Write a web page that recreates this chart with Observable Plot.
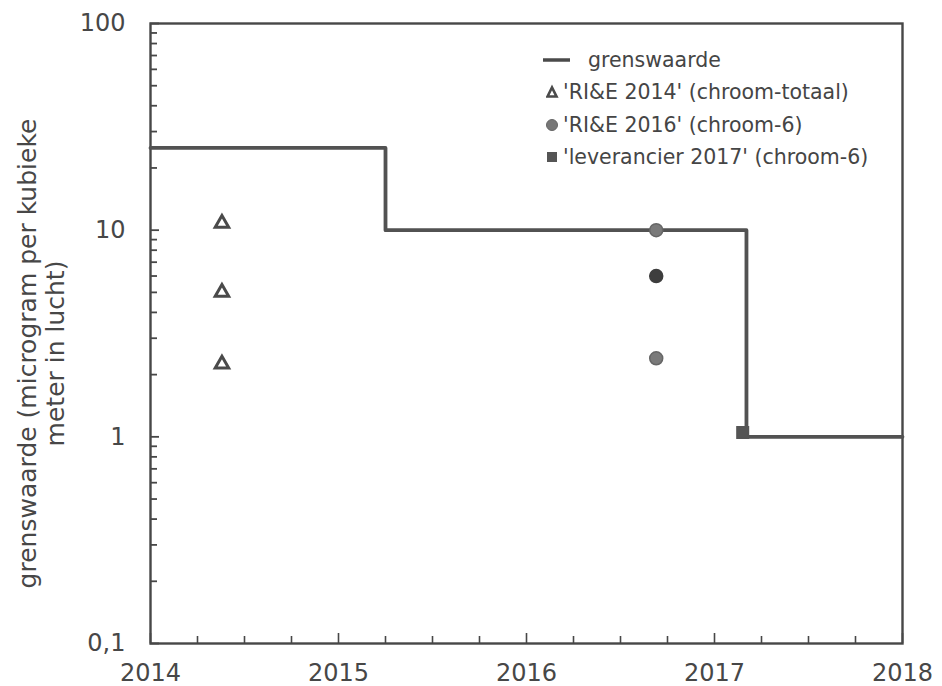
<!DOCTYPE html>
<html>
<head>
<meta charset="utf-8">
<script src="https://cdn.jsdelivr.net/npm/d3@7"></script>
<script src="https://cdn.jsdelivr.net/npm/@observablehq/plot@0.6"></script>
<style>
  html, body { margin: 0; padding: 0; background: #fff; }
  #wrap { position: relative; width: 942px; height: 686px; font-family: "DejaVu Sans", Verdana, sans-serif; color: #454545; }
  .row { position: absolute; height: 24px; line-height: 24px; font-size: 20.5px; white-space: nowrap; display: flex; align-items: center; }
  .row svg { flex: none; }
</style>
</head>
<body>
<div id="wrap"></div>
<script>
// ---- data ----
const years = [2014, 2015, 2016, 2017, 2018];
const yTickValues = [0.1, 1, 10, 100];
const yMinorTicks = [0.2,0.3,0.4,0.5,0.6,0.7,0.8,0.9, 2,3,4,5,6,7,8,9, 20,30,40,50,60,70,80,90];
const quarterTicks = [2014.25,2014.5,2014.75, 2015.25,2015.5,2015.75, 2016.25,2016.5,2016.75, 2017.25,2017.5,2017.75];

// grenswaarde (limit value), step function
const limitX = [2014, 2015.25, 2017.17, 2018];
const limitY = [25, 10, 1, 1];

// 'RI&E 2014' (chroom-totaal)
const rie2014X = [2014.38, 2014.38, 2014.38];
const rie2014Y = [10.8, 5.0, 2.25];

// 'RI&E 2016' (chroom-6)
const rie2016X = [2016.69, 2016.69, 2016.69];
const rie2016Y = [10, 6, 2.4];

// 'leverancier 2017' (chroom-6)
const lev2017X = [2017.15];
const lev2017Y = [1.05];

const legendLabels = ["grenswaarde", "'RI&E 2014' (chroom-totaal)", "'RI&E 2016' (chroom-6)", "'leverancier 2017' (chroom-6)"];
const yLabel = "grenswaarde (microgram per kubieke\nmeter in lucht)";

// ---- build ----
const limit = limitX.map((x, i) => ({x, y: limitY[i]}));
const rie2014 = rie2014X.map((x, i) => ({x, y: rie2014Y[i]}));
const rie2016 = rie2016X.map((x, i) => ({x, y: rie2016Y[i]}));
const lev2017 = lev2017X.map((x, i) => ({x, y: lev2017Y[i]}));

const W = 942, H = 686, mL = 150, mR = 40, mT = 23, mB = 43;
const plotW = W - mL - mR, plotH = H - mT - mB;
const ink = "#474747";

const chart = Plot.plot({
  width: W, height: H,
  marginLeft: mL, marginRight: mR, marginTop: mT, marginBottom: mB,
  x: {domain: [2014, 2018], label: null},
  y: {type: "log", domain: [0.1, 100], label: null},
  style: {fontFamily: "'DejaVu Sans', Verdana, sans-serif", fontSize: "24px", color: ink, background: "white"},
  marks: [
    Plot.axisX(years, {tickSize: 0, tickPadding: 20, tickFormat: d => String(d), label: null, fontSize: 24, fill: ink}),
    Plot.axisY(yTickValues, {tickSize: 0, tickPadding: 25, tickFormat: d => String(d).replace(".", ","), label: null, fontSize: 24, fill: ink}),
    Plot.tickX(quarterTicks, {x: d => d, insetTop: plotH - 7, stroke: ink, strokeWidth: 1.6}),
    Plot.tickX(years, {x: d => d, insetTop: plotH - 10, stroke: ink, strokeWidth: 1.6}),
    Plot.tickY(yMinorTicks, {y: d => d, insetRight: plotW - 7, stroke: ink, strokeWidth: 1.8}),
    Plot.tickY(yTickValues, {y: d => d, insetRight: plotW - 9, stroke: ink, strokeWidth: 1.8}),
    Plot.frame({stroke: ink, strokeWidth: 2.4}),
    Plot.line(limit, {x: "x", y: "y", curve: "step-after", stroke: "#525252", strokeWidth: 3.8}),
    Plot.dot(rie2014, {x: "x", y: "y", symbol: "triangle", r: 5, stroke: "#4a4a4a", strokeWidth: 3, fill: "white"}),
    Plot.dot(rie2016, {x: "x", y: "y", r: 6.5, fill: (d, i) => i === 1 ? "#3e3e3e" : "#7a7a7a", stroke: (d, i) => i === 1 ? "#3e3e3e" : "#666"}),
    Plot.dot(lev2017, {x: "x", y: "y", symbol: "square", r: 6.5, fill: "#555", stroke: "#555"}),
    Plot.text([yLabel], {text: d => d, frameAnchor: "left", rotate: -90, textAnchor: "middle", dx: -109, dy: 20, fontSize: 25, fill: ink, lineHeight: 1.12})
  ]
});

const wrap = document.getElementById("wrap");
wrap.appendChild(chart);

// legend overlay
const legendRows = [
  {top: 48, left: 543, sym: `<svg width="45" height="24"><line x1="0" y1="12" x2="27" y2="12" stroke="#4a4a4a" stroke-width="3.5"/></svg>`},
  {top: 80, left: 546, sym: `<svg width="17" height="24"><path d="M1.5,16.5 L6,7.5 L10.5,16.5 Z" fill="none" stroke="#4a4a4a" stroke-width="2.6" stroke-linejoin="miter"/></svg>`},
  {top: 113, left: 546, sym: `<svg width="17" height="24"><circle cx="6" cy="12" r="5.5" fill="#777" stroke="#666"/></svg>`},
  {top: 145, left: 546, sym: `<svg width="17" height="24"><rect x="1" y="7" width="10" height="10" fill="#555"/></svg>`}
];
legendRows.forEach((r, i) => {
  const div = document.createElement("div");
  div.className = "row";
  div.style.top = r.top + "px";
  div.style.left = r.left + "px";
  div.innerHTML = r.sym + `<span></span>`;
  div.querySelector("span").textContent = legendLabels[i];
  wrap.appendChild(div);
});
</script>
</body>
</html>
